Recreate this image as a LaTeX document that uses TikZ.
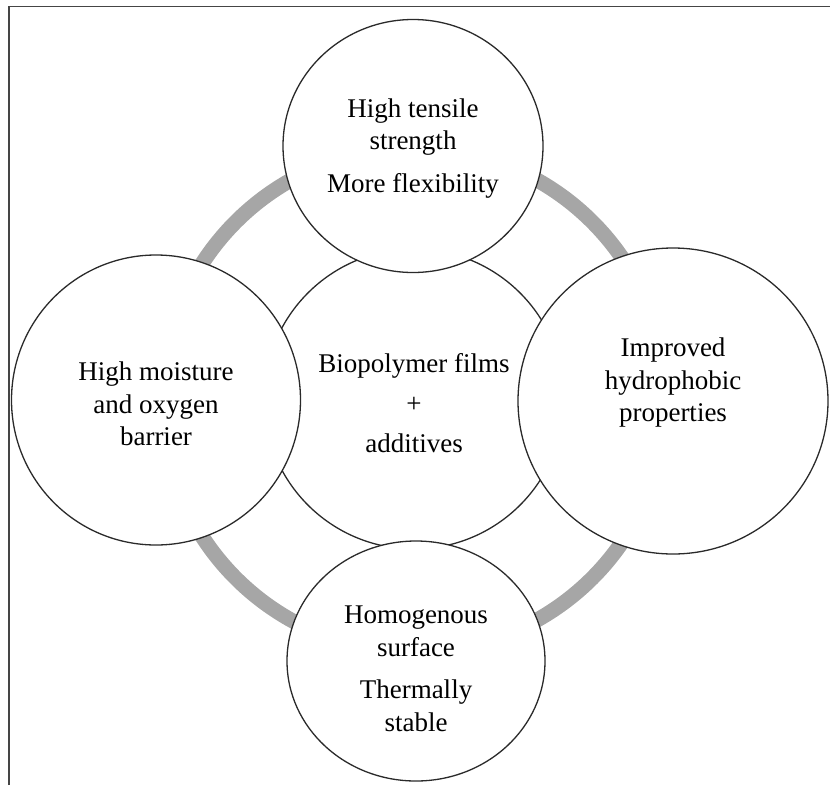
\documentclass[tikz,border=0pt]{standalone}
\usepackage{fontspec}
\setmainfont{Liberation Serif}
\usetikzlibrary{shapes.geometric}
\definecolor{ringgray}{HTML}{A6A6A6}
\definecolor{edgegray}{HTML}{2A2A2A}
\definecolor{framegray}{HTML}{454545}
\newcommand{\upstrut}[1]{\rule{0pt}{#1}}
\newcommand{\downstrut}[1]{\rule[-#1]{0pt}{#1}}
\begin{document}
\begin{tikzpicture}[x=1pt,y=-1pt,
  bubble/.style={ellipse, draw=edgegray, line width=1.3pt, fill=white, inner sep=0pt,
    align=center, font=\fontsize{27}{32.5}\selectfont},
  ringline/.style={draw=ringgray, line width=15pt}]
\useasboundingbox (0,0) rectangle (830,785);
% frame
\draw[framegray, line width=1.8pt] (9,785) -- (9,6.5) -- (830,6.5);
% grey ring
\draw[ringline] (414,400) circle[radius=252];
% central circle
\node[bubble, minimum width=300pt, minimum height=300pt] (core) at (414,399)
  {\upstrut{27pt}Biopolymer films\\[7.5pt]+\\[7.5pt]additives};
% outer circles
\node[bubble, minimum width=260pt, minimum height=253pt] (top) at (413,146)
  {\upstrut{23pt}High tensile\\strength\\[10pt]More flexibility};
\node[bubble, minimum width=289pt, minimum height=290pt] (left) at (156,400)
  {\upstrut{27pt}High moisture\\and oxygen\\barrier};
\node[bubble, minimum width=310pt, minimum height=306pt] (right) at (673,401)
  {Improved\\hydrophobic\\properties\downstrut{42pt}};
\node[bubble, minimum width=258pt, minimum height=240pt] (bottom) at (416,661)
  {\upstrut{33pt}Homogenous\\surface\\[10pt]Thermally\\stable};
\end{tikzpicture}
\end{document}
